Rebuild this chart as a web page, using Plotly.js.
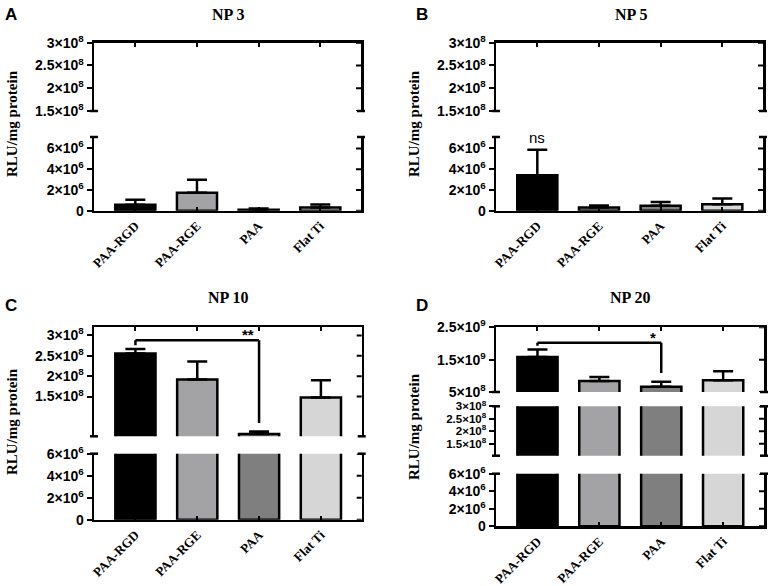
<!DOCTYPE html>
<html>
<head>
<meta charset="utf-8">
<script src="https://cdn.plot.ly/plotly-3.0.1.min.js"></script>
<style>
  html, body { margin: 0; padding: 0; background: #fff; }
  #chart { width: 772px; height: 586px; }
</style>
</head>
<body>
<div id="chart"></div>
<script>
const categories = ['PAA-RGD', 'PAA-RGE', 'PAA', 'Flat Ti']
const barColors = ['#000000', '#a3a3a6', '#7f7f7f', '#d6d6d6']

// mean and upper SD per group, RLU/mg protein
const np3Mean = [0.58e6, 1.72e6, 0.10e6, 0.32e6]
const np3Sd = [0.47e6, 1.25e6, 0.12e6, 0.28e6]
const np5Mean = [3.42e6, 0.30e6, 0.47e6, 0.63e6]
const np5Sd = [2.44e6, 0.20e6, 0.36e6, 0.54e6]
const np10Mean = [2.56e8, 1.92e8, 0.58e8, 1.48e8]
const np10Sd = [0.11e8, 0.44e8, 0.06e8, 0.42e8]
const np20Mean = [1.58e9, 0.84e9, 0.66e9, 0.86e9]
const np20Sd = [0.23e9, 0.12e9, 0.16e9, 0.28e9]

const lowTicks = [0, 2e6, 4e6, 6e6]
const lowTickText = ['0', '2×10<sup>6</sup>', '4×10<sup>6</sup>', '6×10<sup>6</sup>']
const midTicks = [1.5e8, 2e8, 2.5e8, 3e8]
const midTickText = ['1.5×10<sup>8</sup>', '2×10<sup>8</sup>', '2.5×10<sup>8</sup>', '3×10<sup>8</sup>']
const highTicks = [5e8, 1.5e9, 2.5e9]
const highTickText = ['5×10<sup>8</sup>', '1.5×10<sup>9</sup>', '2.5×10<sup>9</sup>']

// significance: [from index, to index, bracket level, left end, right end, label x, label]
const np10Bracket = [0, 2, 2.88e8, 2.76e8, 0.85e8, 1.82, '**']
const np20Bracket = [0, 2, 2.02e9, 1.93e9, 1.09e9, 1.86, '*']
// non-significance label on NP 5: [index, level, label]
const np5Label = [0, 6.0e6, 'ns']

const W = 772, H = 586
const px = v => v / W
const py = v => 1 - v / H
const xRange = [-0.67, 3.66]

const panels = [
  { letter: 'A', title: 'NP 3', mean: np3Mean, sd: np3Sd, left: 94, right: 361,
    lx: 11, ly: 14, tx: 228, ty: 14, yl: [12, 124],
    segs: [
      { top: 137, bottom: 210.7, range: [0, 7.1e6], tv: lowTicks, tt: lowTickText },
      { top: 42.7, bottom: 111, range: [1.5e8, 3e8], tv: midTicks, tt: midTickText }
    ] },
  { letter: 'B', title: 'NP 5', mean: np5Mean, sd: np5Sd, left: 496, right: 763,
    lx: 422, ly: 14, tx: 631, ty: 14, yl: [414, 124], label: np5Label,
    segs: [
      { top: 137, bottom: 210.7, range: [0, 7.1e6], tv: lowTicks, tt: lowTickText },
      { top: 42.7, bottom: 111, range: [1.5e8, 3e8], tv: midTicks, tt: midTickText }
    ] },
  { letter: 'C', title: 'NP 10', mean: np10Mean, sd: np10Sd, left: 94, right: 361.7,
    lx: 11, ly: 305, tx: 228, ty: 297, yl: [12, 422], bracket: np10Bracket,
    segs: [
      { top: 453.7, bottom: 519.7, range: [0, 6e6], tv: lowTicks, tt: lowTickText },
      { top: 327.3, bottom: 436.3, range: [0.525e8, 3.2e8], tv: midTicks, tt: midTickText }
    ] },
  { letter: 'D', title: 'NP 20', mean: np20Mean, sd: np20Sd, left: 496, right: 764,
    lx: 422, ly: 305, tx: 630, ty: 297, yl: [414, 427], bracket: np20Bracket,
    segs: [
      { top: 473.7, bottom: 526.3, range: [0, 6e6], tv: lowTicks, tt: lowTickText },
      { top: 406.3, bottom: 455.7, range: [1.02e8, 3e8], tv: midTicks, tt: midTickText, small: true },
      { top: 327.3, bottom: 392, range: [5e8, 2.5e9], tv: highTicks, tt: highTickText }
    ] }
]

const lineStyle = { color: '#000', width: 2.5 }
const tickStyle = { color: '#000', width: 2 }
const axisBase = {
  showgrid: false, zeroline: false, linecolor: '#000', linewidth: 2.5,
  tickcolor: '#000', tickwidth: 2, fixedrange: true
}
const yTickFont = { family: 'Liberation Sans, Arial, sans-serif', size: 14, weight: 'bold', color: '#000' }
const yTickFontSmall = Object.assign({}, yTickFont, { size: 11.5 })
const xTickFont = { family: 'Liberation Serif, Times New Roman, serif', size: 13, weight: 'bold', color: '#000' }

const traces = []
const shapes = []
const annotations = []
const layout = {
  width: W, height: H,
  margin: { l: 0, r: 0, t: 0, b: 0 },
  paper_bgcolor: '#fff', plot_bgcolor: 'rgba(0,0,0,0)',
  showlegend: false
}

let n = 0
const axName = (p, i) => p + (i > 1 ? i : '')

panels.forEach(p => {
  const refs = []
  const last = p.segs.length - 1

  p.segs.forEach((s, k) => {
    const id = ++n
    const xRef = axName('x', id)
    const yRef = axName('y', id)
    refs.push([xRef, yRef])

    const xa = Object.assign({}, axisBase, {
      type: 'category', domain: [px(p.left), px(p.right)], range: xRange, anchor: yRef
    })
    if (k === 0) {
      Object.assign(xa, { side: 'bottom', showline: true, ticks: 'inside', ticklen: 4,
        tickangle: -45, tickfont: xTickFont })
    } else if (k === last) {
      Object.assign(xa, { side: 'top', showline: true, ticks: 'inside', ticklen: 4, showticklabels: false })
    } else {
      Object.assign(xa, { showline: false, ticks: '', showticklabels: false })
    }
    layout[axName('xaxis', id)] = xa

    layout[axName('yaxis', id)] = Object.assign({}, axisBase, {
      domain: [py(s.bottom), py(s.top)], range: s.range, anchor: xRef,
      showline: true, mirror: true,
      tickmode: 'array', tickvals: s.tv, ticktext: s.tt, ticks: 'outside', ticklen: 5,
      tickfont: s.small ? yTickFontSmall : yTickFont
    })

    const errTop = Math.max(...p.mean.map((m, i) => m + p.sd[i]))
    const showErr = errTop > s.range[0] && errTop <= s.range[1]
    traces.push({
      type: 'bar', x: categories, y: p.mean, xaxis: xRef, yaxis: yRef,
      width: 0.65,
      marker: { color: barColors, line: lineStyle },
      error_y: {
        type: 'data', symmetric: false, array: p.sd, arrayminus: p.sd.map(() => 0),
        visible: showErr, color: '#000', thickness: 2.5, width: 10
      },
      hoverinfo: 'skip'
    })

    // inward ticks on the right-hand axis line
    s.tv.forEach(v => {
      shapes.push({
        type: 'line', xref: xRef + ' domain', yref: yRef,
        xsizemode: 'pixel', xanchor: 1, x0: -5, x1: 0, y0: v, y1: v,
        line: tickStyle
      })
    })

    // caps where the axis is broken
    const edges = []
    if (k > 0) edges.push(0)
    if (k < last) edges.push(1)
    edges.forEach(e => {
      [0, 1].forEach(side => {
        shapes.push({
          type: 'line', xref: xRef + ' domain', yref: yRef + ' domain',
          xsizemode: 'pixel', xanchor: side, x0: -4, x1: 4, y0: e, y1: e,
          line: lineStyle
        })
      })
    })
  })

  if (p.bracket) {
    const [i0, i1, level, endL, endR, lx, txt] = p.bracket
    const [xRef, yRef] = refs[last]
    const seg = (x0, y0, x1, y1) => ({ type: 'line', xref: xRef, yref: yRef, x0, y0, x1, y1, line: lineStyle })
    shapes.push(seg(i0, level, i1, level), seg(i0, level, i0, endL), seg(i1, level, i1, endR))
    annotations.push({
      xref: xRef, yref: yRef, x: lx, y: level, text: txt, showarrow: false,
      xanchor: 'center', yanchor: 'bottom', yshift: -5,
      font: { family: 'Liberation Sans, Arial, sans-serif', size: 15, weight: 'bold', color: '#000' }
    })
  }
  if (p.label) {
    const [i, level, txt] = p.label
    const [xRef, yRef] = refs[0]
    annotations.push({
      xref: xRef, yref: yRef, x: i, y: level, text: txt, showarrow: false,
      xanchor: 'center', yanchor: 'bottom',
      font: { family: 'Liberation Sans, Arial, sans-serif', size: 15, color: '#000' }
    })
  }

  annotations.push(
    { xref: 'paper', yref: 'paper', x: px(p.lx), y: py(p.ly), text: p.letter, showarrow: false,
      xanchor: 'center', yanchor: 'middle',
      font: { family: 'Liberation Sans, Arial, sans-serif', size: 17, weight: 'bold', color: '#000' } },
    { xref: 'paper', yref: 'paper', x: px(p.tx), y: py(p.ty), text: p.title, showarrow: false,
      xanchor: 'center', yanchor: 'middle',
      font: { family: 'Liberation Serif, Times New Roman, serif', size: 16, weight: 'bold', color: '#000' } },
    { xref: 'paper', yref: 'paper', x: px(p.yl[0]), y: py(p.yl[1]), text: 'RLU/mg protein', showarrow: false,
      textangle: -90, xanchor: 'center', yanchor: 'middle',
      font: { family: 'Liberation Serif, Times New Roman, serif', size: 15, weight: 'bold', color: '#000' } }
  )
})

layout.shapes = shapes
layout.annotations = annotations

Plotly.newPlot('chart', traces, layout, { staticPlot: true, displayModeBar: false })
</script>
</body>
</html>
